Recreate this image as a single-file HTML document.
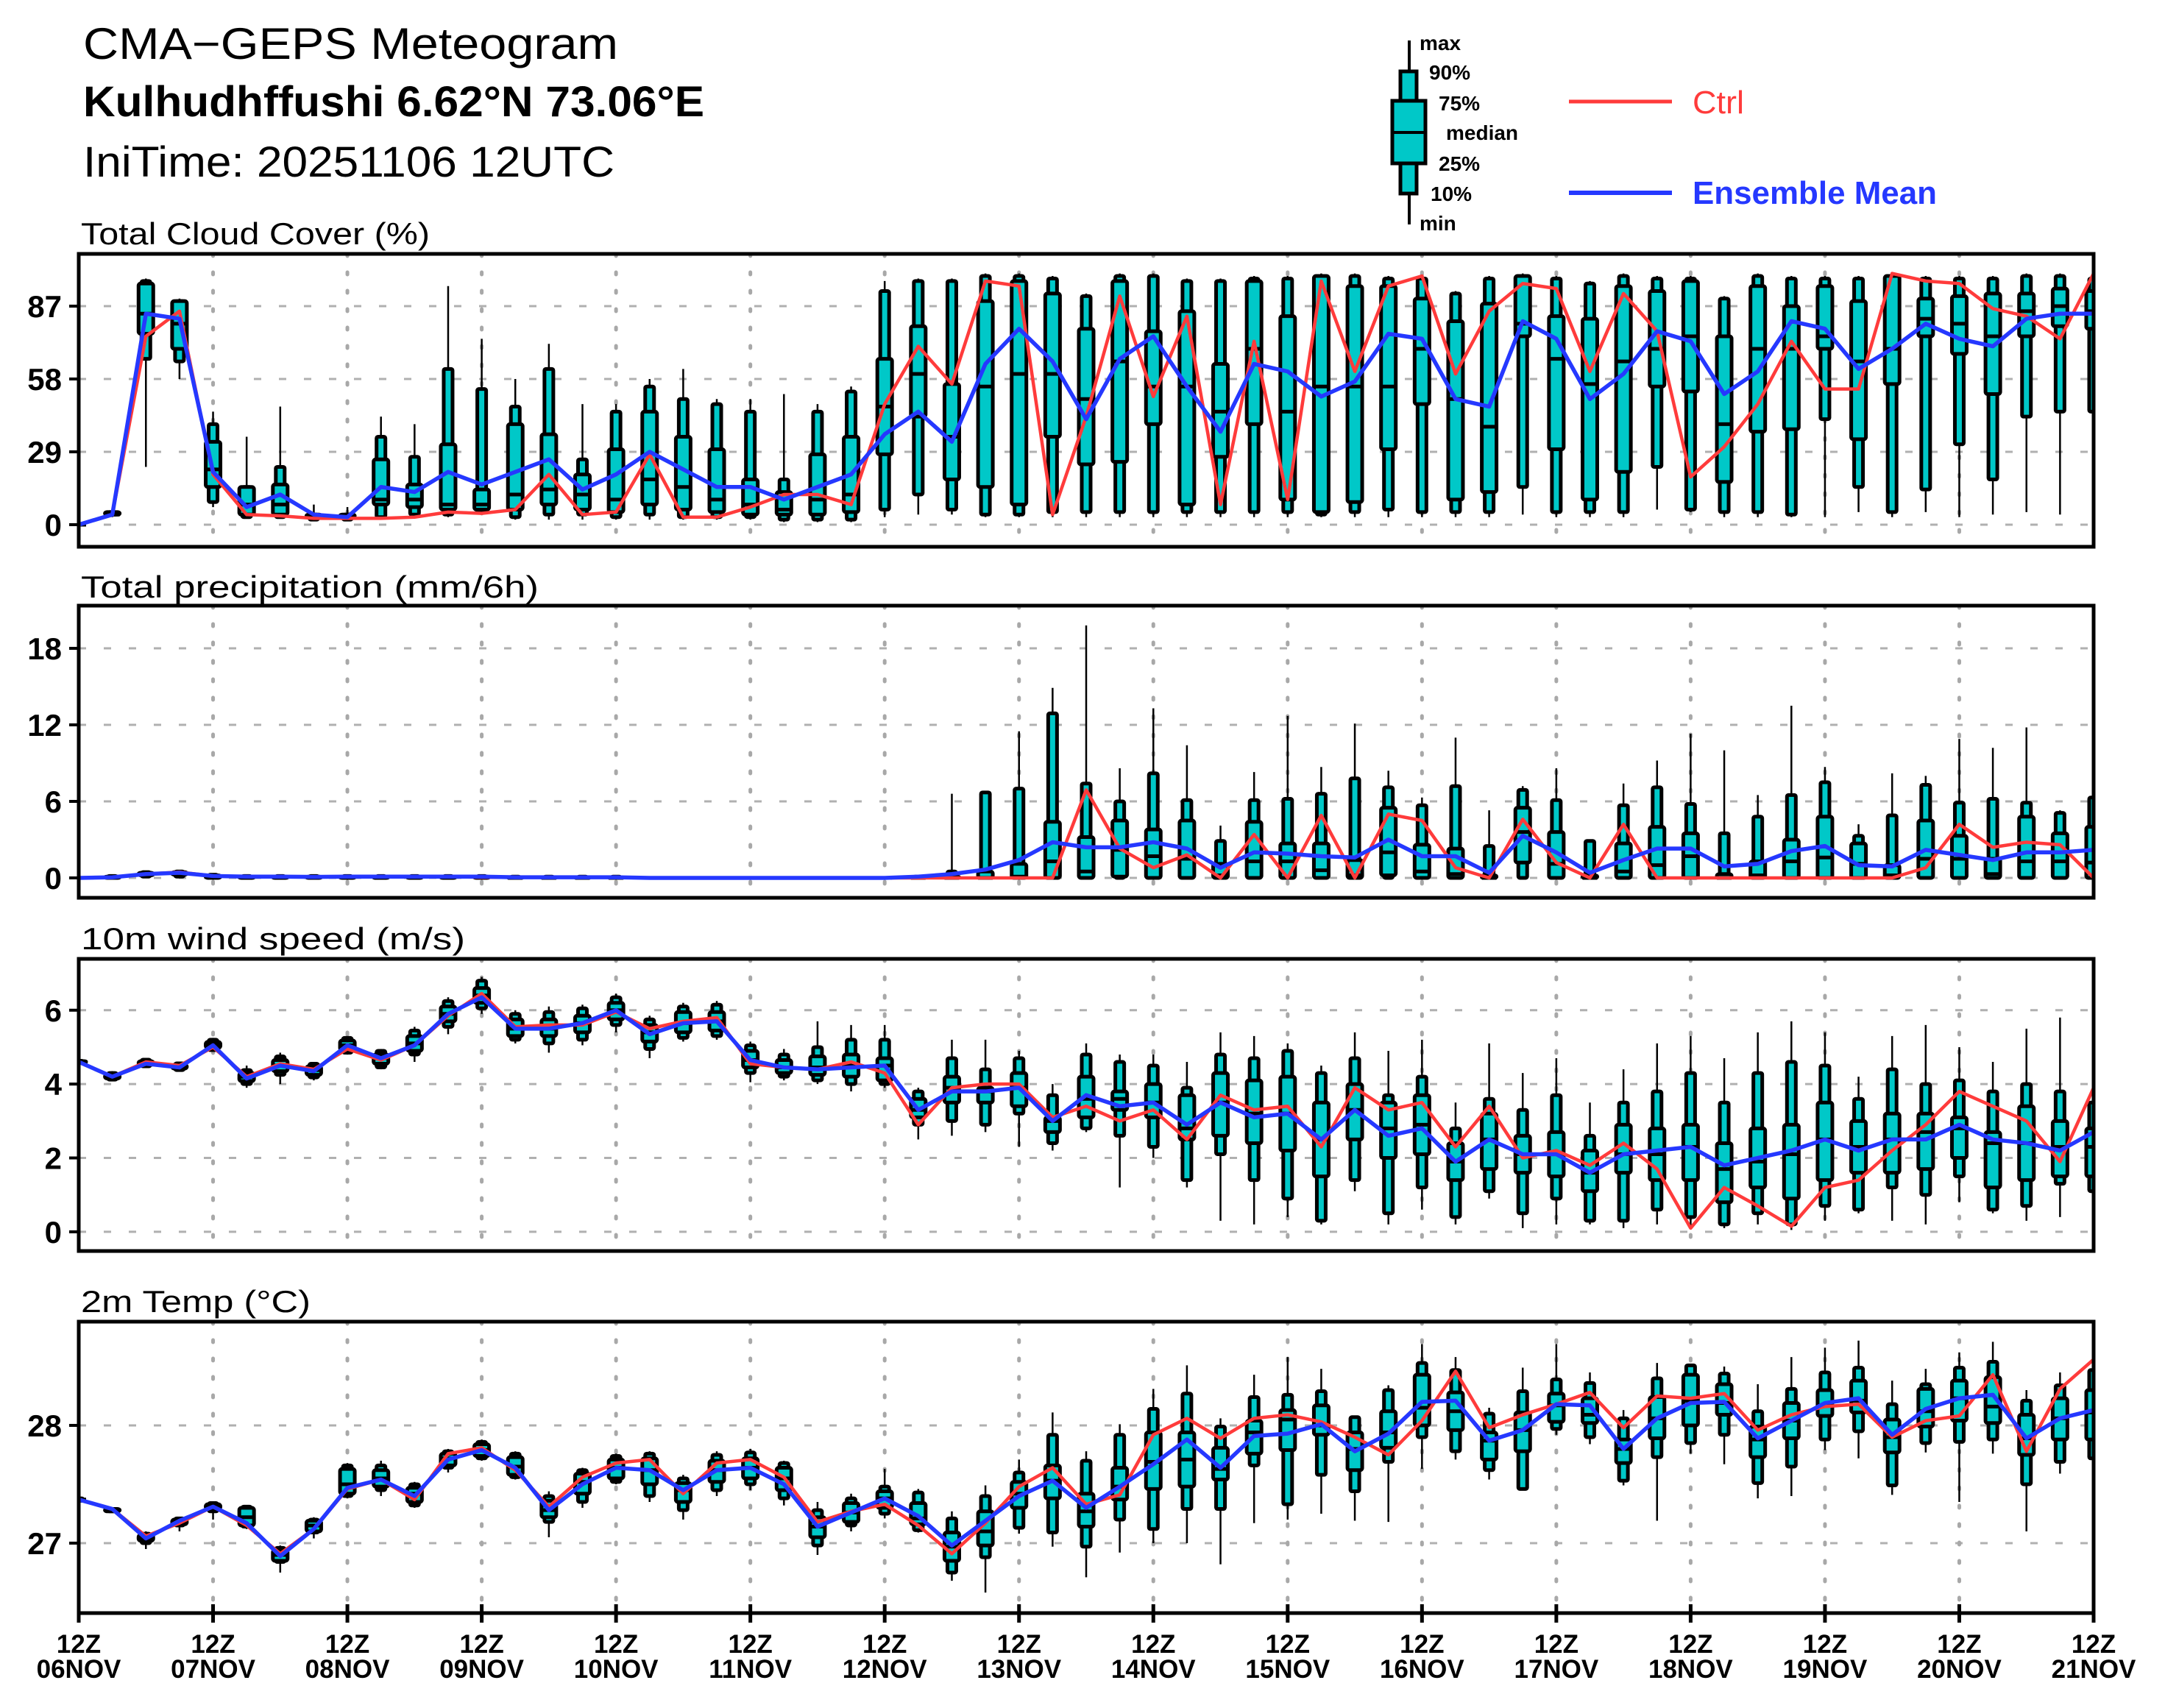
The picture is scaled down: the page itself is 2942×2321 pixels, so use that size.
<!DOCTYPE html>
<html><head><meta charset="utf-8"><title>CMA-GEPS Meteogram</title>
<style>
html,body{margin:0;padding:0;background:#fff;}
svg{display:block;}
text{font-family:"Liberation Sans",sans-serif;}
</style></head>
<body>
<svg id="chart" width="2942" height="2321" viewBox="0 0 2942 2321" xmlns="http://www.w3.org/2000/svg">
<rect x="0" y="0" width="2942" height="2321" fill="#fff"/>
<g>
<text x="113" y="80" font-size="60" textLength="727" lengthAdjust="spacingAndGlyphs">CMA−GEPS Meteogram</text>
<text x="113" y="158" font-size="58" font-weight="bold" textLength="844" lengthAdjust="spacingAndGlyphs">Kulhudhffushi 6.62°N 73.06°E</text>
<text x="113" y="240" font-size="58" textLength="722" lengthAdjust="spacingAndGlyphs">IniTime: 20251106 12UTC</text>
</g>
<g>
<line x1="1915" y1="55" x2="1915" y2="305" stroke="#000" stroke-width="4"/>
<rect x="1903" y="97" width="22" height="166" fill="#00c8c8" stroke="#000" stroke-width="5"/>
<rect x="1892" y="137" width="45" height="85" fill="#00c8c8" stroke="#000" stroke-width="5"/>
<line x1="1892" y1="180" x2="1937" y2="180" stroke="#000" stroke-width="4"/>
<g font-size="28" font-weight="bold">
<text x="1929" y="68">max</text>
<text x="1942" y="108">90%</text>
<text x="1955" y="150">75%</text>
<text x="1965" y="190">median</text>
<text x="1955" y="232">25%</text>
<text x="1944" y="273">10%</text>
<text x="1929" y="313">min</text>
</g>
<line x1="2132" y1="138" x2="2272" y2="138" stroke="#ff3b3b" stroke-width="5"/>
<text x="2300" y="154" font-size="44" fill="#ff3b3b" textLength="70" lengthAdjust="spacingAndGlyphs">Ctrl</text>
<line x1="2132" y1="262" x2="2272" y2="262" stroke="#2538ff" stroke-width="6"/>
<text x="2300" y="277" font-size="44" font-weight="bold" fill="#2538ff" textLength="332" lengthAdjust="spacingAndGlyphs">Ensemble Mean</text>
</g>
<g id="plots"></g>
</svg>
<script>
// ---------- data ----------
const dayLabels = ["06NOV","07NOV","08NOV","09NOV","10NOV","11NOV","12NOV","13NOV","14NOV","15NOV","16NOV","17NOV","18NOV","19NOV","20NOV","21NOV"];
// box stats per 6h step: [max, p90, p75, median, p25, p10, min]
const cloudBox = [[0,0,0,0,0,0,0],[5,5,5,4,4,4,3],[98,97,96,84,76,66,23],[90,89,89,80,70,65,58],[45,40,33,22,15,9,7],[35,15,15,8,4,3,3],[47,23,16,8,4,3,3],[8,4,4,3,3,2,2],[7,4,4,3,3,2,2],[43,35,26,10,8,3,3],[40,27,16,10,7,4,3],[95,62,32,8,6,4,3],[74,54,14,8,6,5,4],[58,47,40,12,6,3,2],[72,62,36,14,8,4,2],[48,26,20,12,6,4,2],[48,45,30,10,5,3,2],[58,55,45,18,8,4,2],[62,50,35,15,6,3,2],[50,48,30,10,5,3,2],[50,45,18,8,4,3,2],[52,18,13,6,4,2,1],[48,45,28,10,4,2,1],[55,53,35,12,5,2,1],
[97,93,66,47,28,6,3],[98,97,79,60,43,12,4],[98,97,56,35,18,6,4],[100,99,89,55,15,4,3],[100,99,97,60,8,4,3],[99,98,92,60,35,5,3],[92,91,78,50,24,5,3],[100,99,97,65,25,5,3],[100,99,77,55,40,5,3],[98,97,85,55,8,5,3],[98,97,64,45,27,5,3],[99,98,97,70,40,5,3],[99,98,83,45,10,5,3],[100,99,99,55,5,4,3],[100,99,95,55,9,5,3],[99,98,95,55,30,6,3],[99,98,90,70,48,5,3],[93,92,81,50,10,5,3],[99,98,88,39,13,5,3],[100,99,99,80,75,15,4],[99,98,83,66,30,5,3],[97,96,82,56,10,5,3],[100,99,95,65,21,5,3],[99,98,93,70,55,23,6],[99,98,97,75,53,6,5],[91,90,75,40,17,5,3],[100,99,95,70,37,5,3],[99,98,87,70,38,4,3],[99,98,95,75,70,42,3],[99,98,89,65,34,15,5],[100,99,99,70,56,5,3],[99,98,90,82,75,14,5],[99,98,91,80,68,32,3],[99,98,92,75,52,18,4],[100,99,92,85,75,43,5],[100,99,94,87,79,45,4],[99,98,93,85,78,45,40]];
const cloudCtrl = [0,4,75,85,20,4,3.5,2.5,2.5,2.5,3,5,4.5,6,20,4,5,28,3,3,7,12,12,8,48,71,56,97,95,4,43,91,51,83,8,73,10,97,61,95,99,60,85,96,94,61,92,77,19,31,48,73,54,54,100,97,96,86,83,74,100];
const cloudMean = [0,4,84,82,21,7,12,4,3,15,13,21,16,21,26,14,20,29,22,15,15,10,15,20,36,45,33,64,78,65,42,66,75,55,37,64,61,51,57,76,74,50,47,81,74,50,60,77,73,52,61,81,78,62,70,80,74,71,82,84,84];

const precipBox = [[0,0,0,0,0,0,0],[0.2,0.15,0.1,0.05,0,0,0],[0.5,0.45,0.4,0.3,0.2,0.1,0],[0.6,0.5,0.45,0.35,0.25,0.1,0],[0.3,0.25,0.2,0.1,0,0,0],[0.2,0.15,0.1,0.05,0,0,0],[0.2,0.15,0.1,0.05,0,0,0],[0.2,0.15,0.1,0.05,0,0,0],[0.2,0.15,0.1,0.05,0,0,0],[0.2,0.15,0.1,0.05,0,0,0],[0.2,0.15,0.1,0.05,0,0,0],[0.2,0.15,0.1,0.05,0,0,0],[0.2,0.15,0.1,0.05,0,0,0],[0.1,0.1,0.05,0,0,0,0],[0.1,0.1,0.05,0,0,0,0],[0.1,0.1,0.05,0,0,0,0],[0.1,0.1,0.05,0,0,0,0],[0,0,0,0,0,0,0],[0,0,0,0,0,0,0],[0,0,0,0,0,0,0],[0,0,0,0,0,0,0],[0,0,0,0,0,0,0],[0,0,0,0,0,0,0],[0,0,0,0,0,0,0],
[0,0,0,0,0,0,0],[0.2,0.1,0,0,0,0,0],[6.6,0.5,0.1,0,0,0,0],[6.8,6.7,0.5,0,0,0,0],[11.5,7,1.1,0.1,0,0,0],[14.9,12.9,4.4,1.3,0,0,0],[19.8,7.4,3.2,0.5,0,0,0],[8.6,6,4.5,2.2,0.1,0,0],[13.3,8.2,3.8,1.7,0,0,0],[10.4,6.1,4.5,1.5,0,0,0],[4.1,2.9,1.1,0.2,0,0,0],[8.3,6.1,4.4,1.3,0,0,0],[12.7,6.2,2.7,1.3,0,0,0],[8.7,6.6,2.7,0.6,0,0,0],[12.1,7.8,1.4,0.2,0,0,0],[8.4,7.1,5.5,2,0.2,0,0],[6.3,5.7,2.6,0.5,0,0,0],[11,7.2,2.3,0.3,0,0,0],[5.3,2.5,0.2,0,0,0,0],[7.2,6.9,5.5,3.6,1.2,0,0],[8.6,6.1,3.6,1.1,0,0,0],[3,2.9,0.2,0,0,0,0],[7.4,5.7,2.7,0.5,0,0,0],[9.2,7.1,4,1,0,0,0],[11.3,5.8,3.5,1.7,0,0,0],[10,3.5,0.3,0,0,0,0],[6.5,4.8,1.3,0.2,0,0,0],[13.5,6.5,3,1.3,0,0,0],[8.7,7.5,4.8,1.6,0,0,0],[4.2,3.3,2.7,1.1,0,0,0],[8.2,4.9,1,0.2,0,0,0],[8,7.3,4.5,1.5,0,0,0],[10.9,5.9,3.3,1.5,0,0,0],[10.2,6.2,1.5,0.3,0,0,0],[11.8,5.9,4.8,1.3,0,0,0],[5.3,5.1,3.5,1.3,0,0,0],[6.4,6.3,4,1.2,0,0,0]];
const precipCtrl = [0,0.05,0.3,0.45,0.15,0.1,0.1,0.1,0.1,0.1,0.1,0.1,0.05,0.05,0.05,0.05,0.05,0,0,0,0,0,0,0,0,0,0,0,0,0,6.9,2.3,0.8,1.8,0,3.4,0,4.9,0,5,4.5,0.8,0,4.6,1.2,0,4.2,0,0,0,0,0,0,0,0,0.8,4.2,2.4,2.8,2.6,0];
const precipMean = [0,0.05,0.3,0.4,0.15,0.1,0.1,0.08,0.1,0.1,0.1,0.1,0.1,0.05,0.05,0.05,0.05,0,0,0,0,0,0,0,0,0.1,0.3,0.65,1.4,2.8,2.4,2.4,2.8,2.3,0.8,2,1.9,1.7,1.6,3,1.7,1.7,0.4,3.3,2,0.4,1.4,2.3,2.3,0.9,1.1,2.1,2.5,1,0.9,2.2,1.8,1.4,2,2,2.2];

const windBox = [[4.65,4.63,4.62,4.6,4.58,4.57,4.55],[4.35,4.3,4.25,4.2,4.15,4.12,4.08],[4.7,4.66,4.62,4.58,4.52,4.48,4.45],[4.6,4.56,4.52,4.47,4.42,4.38,4.35],[5.25,5.2,5.14,5.07,4.98,4.92,4.88],[4.5,4.38,4.3,4.2,4.08,4.0,3.9],[4.85,4.75,4.65,4.5,4.35,4.25,4.0],[4.6,4.55,4.48,4.38,4.25,4.18,4.1],[5.3,5.25,5.18,5.05,4.92,4.85,4.8],[4.95,4.9,4.8,4.7,4.55,4.45,4.4],[5.55,5.45,5.3,5.1,4.9,4.8,4.6],[6.35,6.25,6.1,5.9,5.7,5.55,5.35],[6.9,6.8,6.6,6.4,6.2,6.05,5.9],[6.0,5.9,5.75,5.5,5.3,5.2,5.1],[6.1,5.95,5.75,5.5,5.3,5.1,4.85],[6.15,6.05,5.85,5.65,5.4,5.2,5.05],[6.45,6.35,6.2,6.0,5.75,5.6,5.4],[5.85,5.75,5.6,5.4,5.15,4.95,4.7],[6.2,6.1,5.95,5.65,5.4,5.25,5.15],[6.25,6.15,5.95,5.7,5.45,5.3,5.2],[5.15,5.05,4.9,4.65,4.45,4.3,4.05],[4.95,4.8,4.65,4.45,4.3,4.2,4.1],[5.7,5.0,4.75,4.45,4.25,4.1,4.0],[5.6,5.2,4.8,4.5,4.2,4.0,3.8],
[5.6,5.2,4.7,4.5,4.1,4.0,3.9],[3.9,3.8,3.6,3.3,3.1,2.9,2.5],[5.2,4.7,4.2,3.9,3.5,3.0,2.6],[5.2,4.4,3.9,3.8,3.5,2.9,2.7],[4.9,4.7,4.3,3.9,3.4,3.2,2.3],[4.0,3.7,3.1,3.0,2.7,2.4,2.2],[5.1,4.8,4.2,3.6,3.1,2.8,2.7],[4.8,4.6,3.8,3.6,3.3,2.6,1.2],[4.8,4.5,4.0,3.5,3.1,2.3,2.0],[4.6,3.9,3.7,2.8,2.5,1.4,1.2],[5.4,4.8,4.3,3.5,2.6,2.1,0.3],[5.3,4.7,4.1,3.2,2.4,1.4,0.2],[5.1,4.9,4.2,3.2,2.2,0.9,0.4],[4.5,4.3,3.5,2.5,1.5,0.3,0.2],[5.4,4.7,4.0,3.3,2.5,1.4,1.1],[4.9,3.7,3.5,2.8,2.0,0.5,0.2],[5.2,4.2,3.7,2.9,2.1,1.2,0.6],[3.5,2.8,2.4,1.9,1.4,0.4,0.2],[5.1,3.6,3.2,2.5,1.7,1.1,0.9],[4.3,3.3,2.6,2.1,1.6,0.5,0.1],[4.7,3.7,2.7,2.1,1.5,0.9,0.2],[3.5,2.6,2.2,1.6,1.1,0.3,0.2],[4.4,3.5,2.9,2.1,1.6,0.3,0.1],[5.1,3.8,2.8,2.1,1.4,0.6,0.2],[5.3,4.3,2.9,2.3,1.4,0.4,0.1],[4.7,3.5,2.4,1.7,0.8,0.2,0.1],[5.4,4.3,2.8,1.9,1.2,0.5,0.2],[5.7,4.6,2.9,2.1,0.9,0.2,0.05],[5.4,4.5,3.5,2.5,1.4,0.7,0.3],[4.2,3.6,3.0,2.3,1.6,0.6,0.5],[5.3,4.4,3.2,2.5,1.6,1.2,0.3],[5.6,4.0,3.2,2.7,1.7,1.0,0.2],[5.0,4.1,3.1,2.8,2.0,1.5,0.8],[4.6,3.8,2.7,2.4,1.2,0.6,0.5],[5.5,4.0,3.4,2.4,1.4,0.7,0.3],[5.8,3.8,3.0,2.3,1.5,1.3,0.4],[4.5,3.5,2.8,2.3,1.5,1.1,0.8]];
const windCtrl = [4.6,4.2,4.6,4.5,5.0,4.2,4.55,4.4,4.95,4.65,5.05,5.85,6.45,5.55,5.6,5.6,5.95,5.5,5.7,5.8,4.55,4.45,4.4,4.6,4.3,2.9,3.9,4.0,4.0,3.1,3.4,3.0,3.3,2.5,3.7,3.3,3.4,2.3,3.9,3.3,3.5,2.3,3.4,2.0,2.2,1.8,2.4,1.7,0.1,1.2,0.7,0.15,1.2,1.4,2.2,2.9,3.8,3.4,3.0,1.9,3.9];
const windMean = [4.6,4.2,4.55,4.45,5.05,4.15,4.5,4.35,5.05,4.7,5.05,5.9,6.35,5.5,5.5,5.65,6.0,5.35,5.65,5.7,4.65,4.45,4.4,4.45,4.5,3.3,3.8,3.8,3.9,3.0,3.7,3.4,3.5,2.9,3.5,3.1,3.2,2.5,3.3,2.6,2.8,1.9,2.5,2.1,2.1,1.6,2.1,2.2,2.3,1.8,2.0,2.2,2.5,2.2,2.5,2.5,2.9,2.5,2.4,2.2,2.7];

const tempBox = [[27.38,27.38,27.37,27.37,27.37,27.36,27.36],[27.30,27.29,27.29,27.28,27.27,27.27,27.26],[27.10,27.08,27.07,27.05,27.02,27.0,26.95],[27.22,27.21,27.20,27.18,27.16,27.15,27.10],[27.35,27.34,27.33,27.31,27.29,27.27,27.20],[27.32,27.31,27.30,27.22,27.15,27.14,27.12],[26.98,26.96,26.94,26.90,26.85,26.84,26.75],[27.22,27.20,27.19,27.15,27.10,27.09,27.04],[27.68,27.66,27.63,27.5,27.42,27.40,27.38],[27.70,27.66,27.62,27.55,27.48,27.45,27.40],[27.52,27.50,27.47,27.42,27.35,27.32,27.30],[27.80,27.78,27.76,27.72,27.66,27.64,27.60],[27.88,27.86,27.84,27.79,27.74,27.72,27.70],[27.78,27.76,27.73,27.65,27.58,27.56,27.54],[27.44,27.40,27.36,27.28,27.22,27.18,27.05],[27.64,27.62,27.59,27.52,27.42,27.35,27.30],[27.76,27.74,27.71,27.64,27.55,27.52,27.50],[27.78,27.76,27.72,27.62,27.50,27.40,27.35],[27.58,27.55,27.51,27.45,27.35,27.28,27.20],[27.78,27.75,27.70,27.62,27.52,27.45,27.40],[27.80,27.77,27.72,27.64,27.55,27.50,27.45],[27.70,27.68,27.64,27.55,27.45,27.38,27.32],[27.35,27.28,27.22,27.14,27.05,26.98,26.90],[27.42,27.38,27.34,27.26,27.18,27.15,27.10],
[27.63,27.48,27.44,27.38,27.30,27.25,27.21],[27.46,27.43,27.34,27.21,27.16,27.11,27.09],[27.27,27.21,27.09,26.97,26.85,26.75,26.68],[27.49,27.40,27.27,27.10,26.98,26.88,26.58],[27.71,27.60,27.52,27.42,27.30,27.13,27.08],[28.11,27.92,27.66,27.53,27.38,27.09,26.97],[27.78,27.70,27.42,27.27,27.14,26.97,26.71],[28.01,27.92,27.64,27.48,27.37,27.20,26.92],[28.31,28.14,27.94,27.69,27.46,27.12,27.0],[28.51,28.27,27.94,27.71,27.48,27.29,27.0],[28.06,27.99,27.81,27.63,27.54,27.29,26.82],[28.43,28.24,28.04,27.94,27.76,27.66,27.17],[28.58,28.26,28.13,28.05,27.79,27.33,27.2],[28.48,28.29,28.17,28.0,27.92,27.58,27.25],[28.06,28.07,27.94,27.80,27.62,27.44,27.19],[28.34,28.30,28.12,27.94,27.81,27.69,27.18],[28.69,28.53,28.43,28.15,28.0,27.90,27.63],[28.58,28.47,28.28,28.12,27.96,27.78,27.71],[28.15,28.10,27.94,27.87,27.71,27.62,27.54],[28.49,28.29,28.11,27.96,27.78,27.46,27.45],[28.69,28.39,28.27,28.17,28.03,27.97,27.92],[28.45,28.36,28.23,28.09,28.02,27.90,27.84],[28.13,28.06,27.88,27.80,27.68,27.53,27.49],[28.53,28.40,28.24,28.06,27.89,27.73,27.19],[28.52,28.51,28.43,28.21,28.0,27.85,27.76],[28.50,28.44,28.35,28.19,28.09,27.92,27.67],[28.35,28.12,27.99,27.88,27.73,27.51,27.38],[28.58,28.31,28.19,28.04,27.89,27.65,27.40],[28.66,28.45,28.30,28.17,28.08,27.88,27.79],[28.72,28.49,28.38,28.21,28.11,27.95,27.72],[28.38,28.18,28.05,27.90,27.77,27.49,27.41],[28.48,28.35,28.31,28.12,27.99,27.85,27.77],[28.62,28.49,28.38,28.23,28.04,27.86,27.35],[28.71,28.54,28.41,28.16,28.02,27.88,27.76],[28.30,28.21,28.09,27.89,27.75,27.50,27.10],[28.45,28.34,28.23,28.06,27.88,27.69,27.59],[28.47,28.47,28.30,28.11,27.88,27.72,27.72]];
const tempCtrl = [27.37,27.29,27.06,27.17,27.31,27.15,26.91,27.12,27.46,27.54,27.37,27.76,27.81,27.62,27.31,27.56,27.68,27.71,27.42,27.68,27.71,27.56,27.18,27.27,27.33,27.15,26.91,27.17,27.48,27.64,27.33,27.41,27.92,28.06,27.89,28.06,28.09,28.03,27.90,27.75,28.04,28.46,27.98,28.09,28.18,28.28,27.98,28.25,28.23,28.27,27.96,28.09,28.16,28.18,27.90,28.04,28.08,28.43,27.78,28.31,28.56];
const tempMean = [27.37,27.29,27.04,27.19,27.31,27.17,26.89,27.12,27.47,27.54,27.40,27.71,27.79,27.64,27.28,27.50,27.64,27.62,27.45,27.62,27.64,27.50,27.14,27.26,27.38,27.23,26.98,27.19,27.40,27.53,27.30,27.48,27.67,27.88,27.64,27.91,27.93,28.01,27.78,27.93,28.20,28.21,27.87,27.96,28.18,28.17,27.80,28.06,28.19,28.20,27.89,28.04,28.19,28.23,27.92,28.14,28.23,28.26,27.89,28.06,28.13];

const cloudTicks = [0,29,58,87];
const precipTicks = [0,6,12,18];
const windTicks = [0,2,4,6];
const tempTicks = [27,28];

// ---------- layout ----------
const NS = "http://www.w3.org/2000/svg";
const X0 = 107, X1 = 2845, NSTEP = 60;
function xAt(i){ return X0 + i*(X1-X0)/NSTEP; }
function mk(tag, attrs, parent){
  const e = document.createElementNS(NS, tag);
  for (const k in attrs) e.setAttribute(k, attrs[k]);
  parent.appendChild(e);
  return e;
}
const root = document.getElementById("plots");

const panels = [
  {key:"cloud", title:"Total Cloud Cover (%)", tw:474, top:345, bot:743, vmin:-8.8, vmax:107.8, ticks:cloudTicks, box:cloudBox, ctrl:cloudCtrl, mean:cloudMean, tb:332},
  {key:"precip", title:"Total precipitation (mm/6h)", tw:622, top:823, bot:1220, vmin:-1.56, vmax:21.35, ticks:precipTicks, box:precipBox, ctrl:precipCtrl, mean:precipMean, tb:812},
  {key:"wind", title:"10m wind speed (m/s)", tw:522, top:1303, bot:1700, vmin:-0.52, vmax:7.39, ticks:windTicks, box:windBox, ctrl:windCtrl, mean:windMean, tb:1290},
  {key:"temp", title:"2m Temp (°C)", tw:312, top:1796, bot:2192, vmin:26.406, vmax:28.881, ticks:tempTicks, box:tempBox, ctrl:tempCtrl, mean:tempMean, tb:1783}
];

panels.forEach((p, pi) => {
  const g = mk("g", {}, root);
  
  
  const yAt = v => p.bot - (v - p.vmin)/(p.vmax - p.vmin)*(p.bot - p.top);

  const t = mk("text", {x:110, y:p.tb, "font-size":42, textLength:p.tw, lengthAdjust:"spacingAndGlyphs"}, g);
  
  
  t.textContent = p.title;

  const clipId = "clip" + pi;
  const cp = mk("clipPath", {id:clipId}, g);
  mk("rect", {x:X0, y:p.top, width:X1-X0, height:p.bot-p.top}, cp);

  const grid = mk("g", {"clip-path":"url(#"+clipId+")"}, g);
  
  
  p.ticks.forEach(v => {
    mk("line", {x1:X0, x2:X1, y1:yAt(v), y2:yAt(v), stroke:"#b0b0b0", "stroke-width":3, "stroke-dasharray":"10 24"}, grid);
  });
  for (let d = 1; d < dayLabels.length - 1; d++){
    mk("line", {x1:xAt(d*4), x2:xAt(d*4), y1:p.top, y2:p.bot, stroke:"#a8a8a8", "stroke-width":5, "stroke-dasharray":"3 22", "stroke-linecap":"round"}, grid);
  }

  p.ticks.forEach(v => {
    const tk = mk("line", {x1:94, x2:X0, y1:yAt(v), y2:yAt(v), stroke:"#000", "stroke-width":4}, g);
    
    
    const lb = mk("text", {x:84, y:yAt(v)+15, "font-size":42, "font-weight":"bold", "text-anchor":"end"}, g);
    
    
    lb.textContent = String(v);
  });

  const bg = mk("g", {"clip-path":"url(#"+clipId+")"}, g);
  
  
  p.box.forEach((b, i) => {
    const x = xAt(i);
    const w = mk("line", {x1:x, x2:x, y1:yAt(b[0]), y2:yAt(b[6]), stroke:"#000", "stroke-width":2.5}, bg);
    
    
    const r1 = mk("rect", {x:x-6, y:yAt(b[1]), width:12, height:Math.max(0, yAt(b[5])-yAt(b[1])), fill:"#00c8c8", stroke:"#000", "stroke-width":5, rx:2}, bg);
    
    
    const r2 = mk("rect", {x:x-10, y:yAt(b[2]), width:20, height:Math.max(0, yAt(b[4])-yAt(b[2])), fill:"#00c8c8", stroke:"#000", "stroke-width":5, rx:3}, bg);
    
    
    const md = mk("line", {x1:x-10, x2:x+10, y1:yAt(b[3]), y2:yAt(b[3]), stroke:"#000", "stroke-width":5}, bg);
    
    
  });

  const lg = mk("g", {"clip-path":"url(#"+clipId+")"}, g);
  const cl = mk("polyline", {points:p.ctrl.map((v,i)=>xAt(i)+","+yAt(v)).join(" "), fill:"none", stroke:"#ff3b3b", "stroke-width":4.5, "stroke-linejoin":"round"}, lg);
  
  
  const ml = mk("polyline", {points:p.mean.map((v,i)=>xAt(i)+","+yAt(v)).join(" "), fill:"none", stroke:"#2538ff", "stroke-width":5.5, "stroke-linejoin":"round"}, lg);
  
  

  const fr = mk("rect", {x:X0, y:p.top, width:X1-X0, height:p.bot-p.top, fill:"none", stroke:"#000", "stroke-width":5}, g);
  
  
});

const xa = mk("g", {}, root);


dayLabels.forEach((d, k) => {
  const x = xAt(k*4);
  const tk = mk("line", {x1:x, x2:x, y1:2180, y2:2205, stroke:"#000", "stroke-width":5}, xa);
  
  
  const t1 = mk("text", {x:x, y:2246, "font-size":35, "font-weight":"bold", "text-anchor":"middle"}, xa);
  
  
  t1.textContent = "12Z";
  const t2 = mk("text", {x:x, y:2280, "font-size":35, "font-weight":"bold", "text-anchor":"middle"}, xa);
  
  
  t2.textContent = d;
});
</script>
</body></html>
